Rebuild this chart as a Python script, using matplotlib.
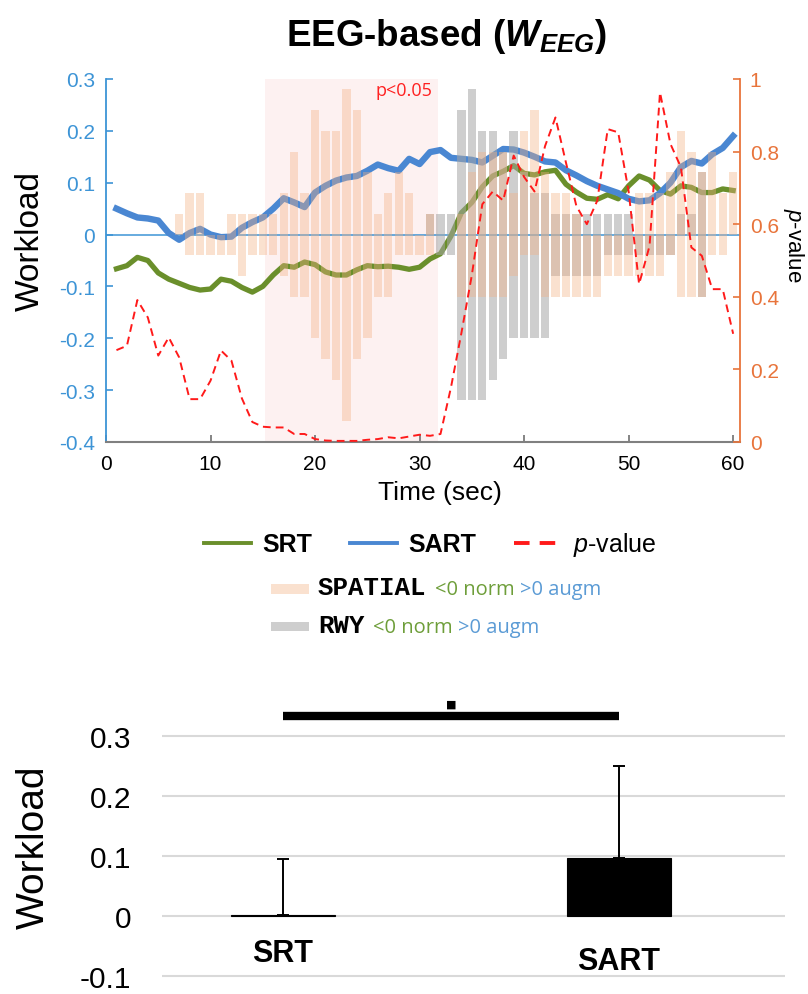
import numpy as np
import matplotlib
matplotlib.use("Agg")
import matplotlib.pyplot as plt
from matplotlib.patches import Rectangle

plt.rcParams['font.family'] = ['Liberation Sans', 'DejaVu Sans']
plt.rcParams['mathtext.fontset'] = 'custom'
plt.rcParams['mathtext.rm'] = 'Liberation Sans'
plt.rcParams['mathtext.it'] = 'Liberation Sans:italic'
plt.rcParams['mathtext.bf'] = 'Liberation Sans:bold'
plt.rcParams['mathtext.sf'] = 'Liberation Sans:bold:italic'

# time axis (sec)
t = np.arange(1, 61)

# workload curves
srt = [-0.066, -0.060, -0.044, -0.050, -0.074, -0.086, -0.094, -0.102, -0.107, -0.105,
       -0.086, -0.090, -0.102, -0.111, -0.100, -0.078, -0.060, -0.063, -0.053, -0.058,
       -0.072, -0.078, -0.078, -0.068, -0.060, -0.062, -0.061, -0.063, -0.067, -0.063,
       -0.047, -0.037, -0.003, 0.042, 0.062, 0.092, 0.113, 0.122, 0.133, 0.118,
       0.115, 0.121, 0.124, 0.097, 0.082, 0.070, 0.068, 0.077, 0.069, 0.094,
       0.113, 0.105, 0.085, 0.078, 0.094, 0.091, 0.081, 0.081, 0.088, 0.085]
sart = [0.050, 0.041, 0.033, 0.031, 0.027, 0.003, -0.010, 0.003, 0.011, 0.000,
        -0.005, -0.004, 0.013, 0.024, 0.033, 0.050, 0.070, 0.062, 0.053, 0.081,
        0.094, 0.104, 0.110, 0.113, 0.123, 0.135, 0.128, 0.123, 0.146, 0.136,
        0.159, 0.163, 0.148, 0.146, 0.144, 0.139, 0.152, 0.165, 0.164, 0.158,
        0.150, 0.141, 0.139, 0.124, 0.114, 0.103, 0.094, 0.087, 0.080, 0.069,
        0.064, 0.066, 0.080, 0.100, 0.130, 0.142, 0.137, 0.155, 0.167, 0.190]
pval = [0.253, 0.265, 0.391, 0.343, 0.238, 0.288, 0.233, 0.118, 0.118, 0.169,
        0.252, 0.224, 0.120, 0.055, 0.042, 0.040, 0.040, 0.022, 0.022, 0.008,
        0.004, 0.003, 0.003, 0.003, 0.006, 0.008, 0.013, 0.010, 0.015, 0.020,
        0.017, 0.022, 0.150, 0.300, 0.460, 0.655, 0.690, 0.665, 0.789, 0.730,
        0.690, 0.815, 0.894, 0.770, 0.650, 0.600, 0.665, 0.862, 0.853, 0.690,
        0.435, 0.540, 0.963, 0.821, 0.757, 0.536, 0.513, 0.421, 0.421, 0.298]

# SPATIAL range bars (low / high)
spatial_lo = [0, 0, 0, 0, 0, 0, 0, -0.04, -0.04, -0.04,
              -0.04, -0.04, -0.08, -0.04, -0.04, -0.04, -0.08, -0.12, -0.12, -0.20,
              -0.24, -0.28, -0.36, -0.24, -0.20, -0.12, -0.12, -0.04, -0.04, -0.04,
              -0.04, 0, 0, -0.12, -0.12, -0.12, -0.12, -0.12, -0.08, -0.04,
              -0.04, -0.12, -0.12, -0.12, -0.12, -0.12, -0.12, -0.08, -0.08, -0.08,
              -0.08, -0.08, -0.08, -0.04, -0.12, -0.12, -0.12, -0.04, -0.04, 0]
spatial_hi = [0, 0, 0, 0, 0, 0, 0.04, 0.08, 0.08, 0,
              0, 0.04, 0.04, 0.04, 0.04, 0.04, 0.08, 0.16, 0.08, 0.24,
              0.20, 0.20, 0.28, 0.24, 0.12, 0.04, 0.08, 0.12, 0.08, 0,
              0.04, 0, 0, 0.04, 0.12, 0.16, 0.16, 0.16, 0.08, 0.20,
              0.24, 0.12, 0.08, 0.08, 0.04, 0, 0, 0, 0, 0,
              0.08, 0.08, 0.08, 0.12, 0.20, 0.16, 0.12, 0.16, 0.08, 0.12]
# RWY range bars (low / high)
rwy_lo = [0] * 30 + [0, -0.04, -0.04, -0.32, -0.32, -0.32, -0.28, -0.24, -0.20, -0.20,
                     -0.20, -0.20, -0.08, -0.08, -0.08, -0.08, -0.08, -0.04, -0.04, -0.04,
                     -0.04, -0.04, -0.04, -0.04, 0, 0, -0.12, 0, 0, 0]
rwy_hi = [0] * 30 + [0.04, 0.04, 0.04, 0.24, 0.28, 0.20, 0.20, 0.16, 0.20, 0.12,
                     0.08, 0.08, 0.04, 0.04, 0.04, 0.04, 0.04, 0.04, 0.04, 0.04,
                     0, 0, 0, 0, 0.04, 0.04, 0.12, 0, 0, 0]

sig_start, sig_end = 15.2, 31.8

# summary bars
groups = ['SRT', 'SART']
means = [0.002, 0.097]
upper_err = [0.093, 0.153]

BLUE = '#4a87d2'
GREEN = '#6a8f2b'
ORANGE = '#e8743b'
AXBLUE = '#3d94d6'

fig = plt.figure(figsize=(8.08, 9.95), dpi=100)

# ---------------- top panel ----------------
ax = fig.add_axes([0.1312, 0.5548, 0.7846, 0.3648])
ax.axvspan(sig_start, sig_end, color='#fdf1f1', lw=0, zorder=0)
ax.axhline(0, color=AXBLUE, lw=1.1, zorder=1)
l_srt, = ax.plot(t, srt, color=GREEN, lw=3.8, zorder=2)
l_sart, = ax.plot(t, sart, color=BLUE, lw=4.6, zorder=2)

spatial_lo = np.array(spatial_lo)
spatial_hi = np.array(spatial_hi)
rwy_lo = np.array(rwy_lo)
rwy_hi = np.array(rwy_hi)
ax.bar(t, rwy_hi - rwy_lo, bottom=rwy_lo, width=0.8, color='#a6a6a6',
       alpha=0.55, lw=0, zorder=3)
ax.bar(t, spatial_hi - spatial_lo, bottom=spatial_lo, width=0.8, color='#f4b183',
       alpha=0.38, lw=0, zorder=4)

ax.set_xlim(0, 60.65)
ax.set_ylim(-0.4, 0.3)
ax.set_xticks(range(0, 61, 10))
ax.set_yticks([0.3, 0.2, 0.1, 0, -0.1, -0.2, -0.3, -0.4])
ax.set_yticklabels(['0.3', '0.2', '0.1', '0', '-0.1', '-0.2', '-0.3', '-0.4'])
ax.tick_params(axis='y', direction='in', colors=AXBLUE, labelsize=15, length=5,
               width=1.2, pad=8)
ax.tick_params(axis='x', direction='in', color='#707070', labelcolor='black',
               labelsize=15, length=5, width=1.2, pad=9)
ax.spines['top'].set_visible(False)
ax.spines['right'].set_visible(False)
ax.spines['left'].set_color(AXBLUE)
ax.spines['left'].set_linewidth(1.3)
ax.spines['bottom'].set_color('#808080')
ax.spines['bottom'].set_linewidth(1.5)
ax.set_xlabel('Time (sec)', fontsize=19)
ax.xaxis.set_label_coords(0.527, -0.138)
ax.xaxis.label.set_va('center')
ax.set_ylabel('Workload', fontsize=24)
ax.yaxis.set_label_coords(-0.12, 0.556)
ax.yaxis.label.set_va('center')

ax.text(31.2, 0.297, 'p<0.05', color='#ff2020', fontsize=13, ha='right', va='top',
        family='Open Sans')

ax2 = ax.twinx()
l_p, = ax2.plot(t, pval, color='#ff1a1a', lw=1.4, ls=(0, (4, 2.6)), zorder=5)
ax2.set_ylim(0, 1)
ax2.set_yticks([0, 0.2, 0.4, 0.6, 0.8, 1])
ax2.set_yticklabels(['0', '0.2', '0.4', '0.6', '0.8', '1'])
ax2.tick_params(axis='y', direction='in', colors=ORANGE, labelsize=15, length=5,
                width=1.2, pad=7)
for s in ['top', 'left', 'bottom']:
    ax2.spines[s].set_visible(False)
ax2.spines['right'].set_color(ORANGE)
ax2.spines['right'].set_linewidth(1.3)
ax2.set_ylabel('$p$-value', fontsize=16, rotation=270)
ax2.yaxis.set_label_coords(1.085, 0.545)
ax2.yaxis.label.set_va('center')

fig.text(0.553, 0.954, r'EEG-based ($\mathsf{W}_{\mathsf{EEG}}$)', fontsize=26.5,
         fontweight='bold', ha='center', va='baseline')

# ---------------- legend ----------------
leg = fig.legend([l_srt, l_sart, l_p], ['SRT', 'SART', '$p$-value'], ncol=3,
                 loc='center', bbox_to_anchor=(0.532, 0.452), frameon=False,
                 fontsize=18, handlelength=1.9, handletextpad=0.45, columnspacing=1.5)
for txt, w in zip(leg.get_texts(), ['bold', 'bold', 'normal']):
    txt.set_fontweight(w)
for ln in leg.get_lines():
    ln.set_linewidth(2.8)

rows = [('SPATIAL', '#f4b183', 0.38, 0.402), ('RWY', '#a6a6a6', 0.55, 0.364)]
for name, col, a, yb in rows:
    fig.patches.append(Rectangle((271 / 808, yb + 0.0005), 38 / 808, 0.0095,
                                 transform=fig.transFigure, color=col, alpha=a, lw=0))
    t1 = fig.text(318 / 808, yb, name, fontsize=18.5, fontweight='bold',
                  family=['Liberation Mono', 'DejaVu Sans Mono'], va='baseline')
    a2 = plt.annotate('<0 norm', xy=(1, 0), xycoords=t1, xytext=(6, 0),
                      textcoords='offset points', fontsize=14.5, color='#6e9e3a',
                      family='Open Sans', va='bottom', annotation_clip=False)
    plt.annotate('>0 augm', xy=(1, 0), xycoords=a2, xytext=(4, 0),
                 textcoords='offset points', fontsize=14.5, color='#5b9bd5',
                 family='Open Sans', va='bottom', annotation_clip=False)

# ---------------- bottom panel ----------------
bx = fig.add_axes([162 / 808, 0.0151, 623 / 808, 0.2866])
xpos = np.arange(len(groups))
bx.bar(xpos, means, width=0.31, color='black', edgecolor='black', lw=0.8, zorder=3,
       yerr=[[0, 0], upper_err], error_kw=dict(ecolor='black', elinewidth=1.4,
                                               capsize=4.5, capthick=1.4))
bx.set_xlim(-0.36, 1.494)
bx.set_ylim(-0.105, 0.37)
bx.set_yticks([-0.1, 0, 0.1, 0.2, 0.3])
bx.set_yticklabels(['-0.1', '0', '0.1', '0.2', '0.3'])
bx.set_xticks([])
bx.grid(axis='y', color='#d9d9d9', lw=1.5, zorder=0)
bx.set_axisbelow(True)
for s in bx.spines.values():
    s.set_visible(False)
bx.tick_params(axis='y', length=0, pad=22, labelsize=21.5)
bx.set_ylabel('Workload', fontsize=28)
bx.yaxis.set_label_coords(-0.205, 0.466)
bx.yaxis.label.set_va('center')

for i, g in enumerate(groups):
    bx.text(xpos[i], -0.062 - 0.013 * i, g, ha='center', va='center', fontsize=22,
            fontweight='bold', family=['Liberation Sans Narrow', 'Liberation Sans'])

sig_y = 0.333
bx.plot([xpos[0], xpos[1]], [sig_y, sig_y], color='black', lw=6, solid_capstyle='butt',
        clip_on=False)
bx.text(xpos.mean(), sig_y + 0.012, '\u25a0', ha='center', va='bottom', fontsize=8,
        family='DejaVu Sans')

fig.savefig('out.png', dpi=100)
